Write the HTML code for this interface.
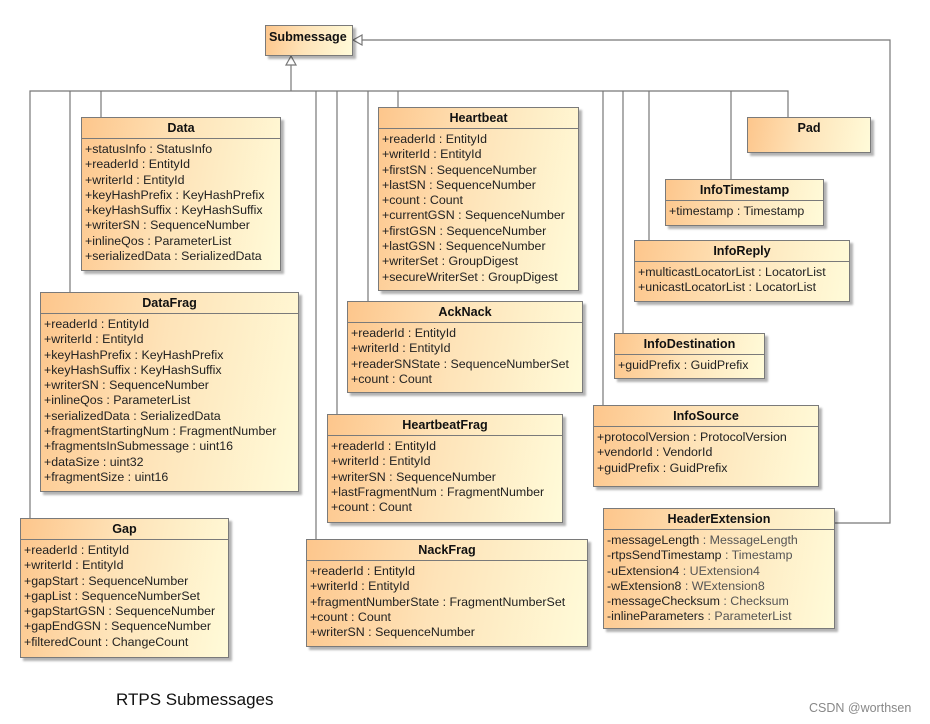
<!DOCTYPE html>
<html><head><meta charset="utf-8"><style>
body{margin:0;width:930px;height:724px;background:#fff;position:relative;overflow:hidden;font-family:"Liberation Sans",sans-serif;}
svg{position:absolute;left:0;top:0}
.b{position:absolute;box-sizing:border-box;border:1px solid #7a7a7a;background:linear-gradient(100deg,#fdc68c 0%,#fee3b8 45%,#fffbd9 100%);box-shadow:3px 3px 2px rgba(0,0,0,0.3);font-size:12.4px;color:#222;}
.h{height:20px;line-height:20px;text-align:center;font-weight:bold;border-bottom:1px solid #7a7a7a;font-size:12.6px;color:#111}
.a{padding:3px 0 0 3px;line-height:15.3px;white-space:nowrap}
.a span{color:#555}
</style></head><body>
<svg width="930" height="724">
<g stroke="#777" stroke-width="1.2" fill="none">
<polyline points="30,518 30,91 788,91 788,117"/>
<line x1="70" y1="91" x2="70" y2="292"/>
<line x1="101" y1="91" x2="101" y2="117"/>
<line x1="291" y1="91" x2="291" y2="62"/>
<line x1="316" y1="91" x2="316" y2="539"/>
<line x1="337" y1="91" x2="337" y2="414"/>
<line x1="368" y1="91" x2="368" y2="301"/>
<line x1="398" y1="91" x2="398" y2="107"/>
<line x1="603" y1="91" x2="603" y2="405"/>
<line x1="623" y1="91" x2="623" y2="333"/>
<line x1="649" y1="91" x2="649" y2="240"/>
<line x1="731" y1="91" x2="731" y2="179"/>
<polyline points="834,523 890,523 890,40 362,40"/>
<polygon points="291,56 286,65 296,65" fill="#fff"/>
<polygon points="353,40 362,35 362,45" fill="#fff"/>
</g>
</svg>
<div class="b" style="left:265px;top:25px;width:88px;height:31px"><div class="h" style="border:0;line-height:22px;text-align:left;padding-left:3px">Submessage</div></div>

<div class="b" style="left:81px;top:117px;width:200px;height:154px"><div class="h">Data</div><div class="a">+statusInfo : StatusInfo<br>+readerId : EntityId<br>+writerId : EntityId<br>+keyHashPrefix : KeyHashPrefix<br>+keyHashSuffix : KeyHashSuffix<br>+writerSN : SequenceNumber<br>+inlineQos : ParameterList<br>+serializedData : SerializedData</div></div>

<div class="b" style="left:40px;top:292px;width:259px;height:200px"><div class="h">DataFrag</div><div class="a">+readerId : EntityId<br>+writerId : EntityId<br>+keyHashPrefix : KeyHashPrefix<br>+keyHashSuffix : KeyHashSuffix<br>+writerSN : SequenceNumber<br>+inlineQos : ParameterList<br>+serializedData : SerializedData<br>+fragmentStartingNum : FragmentNumber<br>+fragmentsInSubmessage : uint16<br>+dataSize : uint32<br>+fragmentSize : uint16</div></div>

<div class="b" style="left:20px;top:518px;width:209px;height:140px"><div class="h">Gap</div><div class="a">+readerId : EntityId<br>+writerId : EntityId<br>+gapStart : SequenceNumber<br>+gapList : SequenceNumberSet<br>+gapStartGSN : SequenceNumber<br>+gapEndGSN : SequenceNumber<br>+filteredCount : ChangeCount</div></div>

<div class="b" style="left:378px;top:107px;width:201px;height:184px"><div class="h">Heartbeat</div><div class="a">+readerId : EntityId<br>+writerId : EntityId<br>+firstSN : SequenceNumber<br>+lastSN : SequenceNumber<br>+count : Count<br>+currentGSN : SequenceNumber<br>+firstGSN : SequenceNumber<br>+lastGSN : SequenceNumber<br>+writerSet : GroupDigest<br>+secureWriterSet : GroupDigest</div></div>

<div class="b" style="left:347px;top:301px;width:236px;height:92px"><div class="h">AckNack</div><div class="a">+readerId : EntityId<br>+writerId : EntityId<br>+readerSNState : SequenceNumberSet<br>+count : Count</div></div>

<div class="b" style="left:327px;top:414px;width:236px;height:109px"><div class="h">HeartbeatFrag</div><div class="a">+readerId : EntityId<br>+writerId : EntityId<br>+writerSN : SequenceNumber<br>+lastFragmentNum : FragmentNumber<br>+count : Count</div></div>

<div class="b" style="left:306px;top:539px;width:282px;height:108px"><div class="h">NackFrag</div><div class="a">+readerId : EntityId<br>+writerId : EntityId<br>+fragmentNumberState : FragmentNumberSet<br>+count : Count<br>+writerSN : SequenceNumber</div></div>

<div class="b" style="left:747px;top:117px;width:124px;height:36px"><div class="h" style="border:0">Pad</div></div>

<div class="b" style="left:665px;top:179px;width:159px;height:47px"><div class="h">InfoTimestamp</div><div class="a">+timestamp : Timestamp</div></div>

<div class="b" style="left:634px;top:240px;width:216px;height:62px"><div class="h">InfoReply</div><div class="a">+multicastLocatorList : LocatorList<br>+unicastLocatorList : LocatorList</div></div>

<div class="b" style="left:614px;top:333px;width:151px;height:46px"><div class="h">InfoDestination</div><div class="a">+guidPrefix : GuidPrefix</div></div>

<div class="b" style="left:593px;top:405px;width:226px;height:82px"><div class="h">InfoSource</div><div class="a">+protocolVersion : ProtocolVersion<br>+vendorId : VendorId<br>+guidPrefix : GuidPrefix</div></div>

<div class="b" style="left:603px;top:508px;width:232px;height:121px"><div class="h">HeaderExtension</div><div class="a">-messageLength <span>: MessageLength</span><br>-rtpsSendTimestamp <span>: Timestamp</span><br>-uExtension4 <span>: UExtension4</span><br>-wExtension8 <span>: WExtension8</span><br>-messageChecksum <span>: Checksum</span><br>-inlineParameters <span>: ParameterList</span></div></div>

<div style="position:absolute;left:116px;top:690px;font-size:17px;color:#111">RTPS Submessages</div>
<div style="position:absolute;left:809px;top:701px;font-size:12.5px;color:#888">CSDN @worthsen</div>
</body></html>
